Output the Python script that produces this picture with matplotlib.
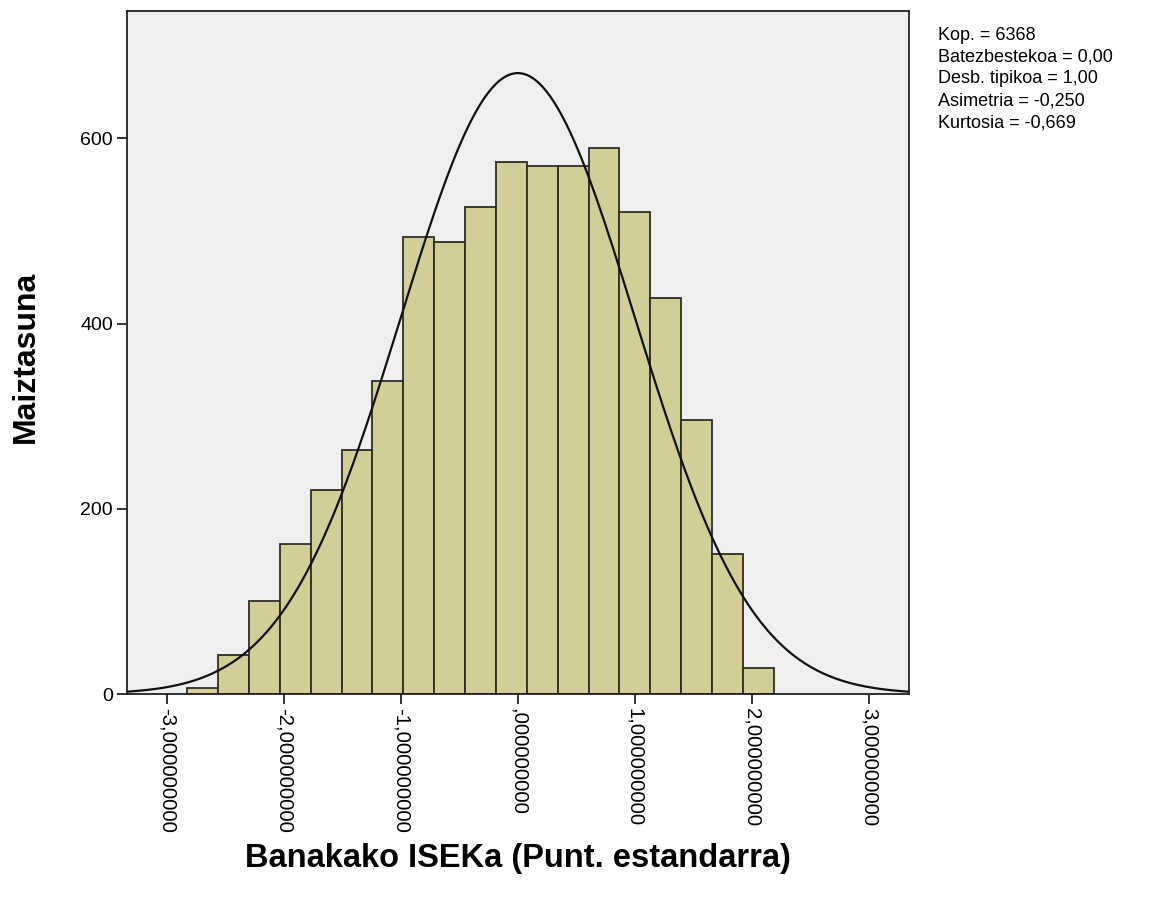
import numpy as np
import matplotlib
matplotlib.use("Agg")
import matplotlib.pyplot as plt

# histogram of standardised scores (19 equal bins)
counts = [7, 42, 100, 162, 220, 264, 338, 494, 488, 526,
          574, 570, 570, 590, 520, 428, 296, 151, 28]
bin_start = -2.826
bin_width = 0.2639

n_obs = 6368
mean = 0.0
sd = 1.0

xticks = [-3, -2, -1, 0, 1, 2, 3]
xtick_labels = ["-3,000000000", "-2,000000000", "-1,000000000", ",000000000",
                "1,000000000", "2,000000000", "3,000000000"]
yticks = [0, 200, 400, 600]
stats_lines = ["Kop. = 6368", "Batezbestekoa = 0,00", "Desb. tipikoa = 1,00",
               "Asimetria = -0,250", "Kurtosia = -0,669"]

plt.rcParams['font.family'] = ['Liberation Sans', 'DejaVu Sans']

fig = plt.figure(figsize=(11.62, 9.01), dpi=100)
ax = fig.add_axes([0.1093, 0.2297, 0.6732, 0.7576])
ax.set_facecolor("#efefef")

lefts = bin_start + bin_width * np.arange(len(counts))
ax.bar(lefts, counts, width=bin_width, align="edge", color="#d3ce97",
       edgecolor="#2e2e22", linewidth=1.3, zorder=2)

xs = np.linspace(-3.34, 3.345, 400)
ys = n_obs * bin_width * np.exp(-0.5 * ((xs - mean) / sd) ** 2) / (sd * np.sqrt(2 * np.pi))
ax.plot(xs, ys, color="#111111", linewidth=1.6, zorder=3)

ax.set_xlim(-3.34, 3.345)
ax.set_ylim(0, 737)
ax.set_xticks(xticks)
ax.set_xticklabels(xtick_labels, rotation=270, fontsize=14.6)
ax.set_yticks(yticks)
ax.set_yticklabels([str(v) for v in yticks], fontsize=14)
ax.tick_params(direction="out", length=7, width=1.3, color="#222222", pad=3)
for s in ax.spines.values():
    s.set_linewidth(1.3)
    s.set_color("#222222")

# axis titles placed on the figure (ylabel sits very close to the left edge)
fig.text(518 / 1162, 1 - 858 / 901, "Banakako ISEKa (Punt. estandarra)",
         fontsize=23.5, fontweight="bold", ha="center", va="center")
fig.text(26 / 1162, 1 - 357 / 901, "Maiztasuna", fontsize=23, fontweight="bold",
         rotation=90, ha="center", va="center")

for i, line in enumerate(stats_lines):
    fig.text(938 / 1162, 1 - (35 + 21.9 * i) / 901, line, fontsize=13,
             va="center", ha="left")

fig.savefig("out.png", dpi=100)
